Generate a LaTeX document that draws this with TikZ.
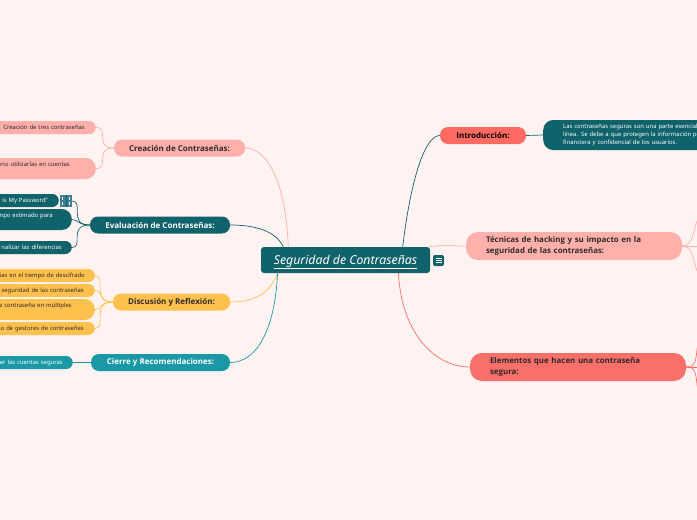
\documentclass[tikz,border=0pt]{standalone}
\usepackage{fontspec}
\setmainfont{Noto Sans}[BoldFont={Open Sans Bold}]
\usepackage{tikz}
\usetikzlibrary{calc}

\definecolor{paper}{HTML}{FFF3F1}
\definecolor{tealdark}{HTML}{10626B}
\definecolor{teallight}{HTML}{1A98A6}
\definecolor{rosa}{HTML}{FFB0AB}
\definecolor{rojo}{HTML}{FF6B63}
\definecolor{salmon}{HTML}{F96F6A}
\definecolor{ambar}{HTML}{FFC14D}
\definecolor{ink}{HTML}{2E2A2A}
\definecolor{steel}{HTML}{3F7F96}

\begin{document}
\begin{tikzpicture}[
  x=1pt, y=-1pt,
  topic/.style={rectangle, rounded corners=8pt, minimum height=17pt, inner sep=0pt,
                align=center, font=\fontsize{8.0}{10}\selectfont\bfseries},
  wide/.style={rectangle, rounded corners=12pt, minimum height=28pt, inner sep=0pt,
               minimum width=216pt, text width=176pt, align=left,
               font=\fontsize{7.9}{11}\selectfont\bfseries, text=ink},
  leaf/.style={rectangle, rounded corners=6.5pt, anchor=east, minimum height=13pt, inner ysep=0pt,
               text width=150pt, align=right, font=\fontsize{5.9}{8}\selectfont},
  tall/.style={leaf, rounded corners=10pt, minimum height=21pt},
  link/.style={line width=0.7pt}
]
\useasboundingbox (0,0) rectangle (697,520);
\fill[paper] (0,0) rectangle (697,520);
\clip (0,0) rectangle (697,520);

%% Central topic
\node[rectangle, fill=tealdark, rounded corners=3pt, minimum width=169pt, minimum height=26pt,
      inner sep=0pt, text=white, font=\fontsize{12.3}{14}\selectfont\itshape\mdseries]
  at (345.5,260) (centro) {\raisebox{-4pt}[0pt][0pt]{\underline{Seguridad de Contraseñas}}};
\node[fill=tealdark, rounded corners=2pt, minimum size=11pt, inner sep=0pt] at (438.5,260.5) (menu) {};

%% Right side
\node[topic, fill=rojo, text=black, minimum width=86pt] at (483,135.5) (intro) {Introducción:};
\node[anchor=west, fill=tealdark, rounded corners=10pt, minimum height=30pt, minimum width=220pt,
      inner sep=0pt, text=white, text width=200pt, align=left,
      font=\fontsize{5.9}{8.4}\selectfont] at (543,135) (introtxt)
  {\raisebox{-1pt}{\hspace*{10pt}Las contraseñas seguras son una parte esencial}\\
   \raisebox{-1pt}{\hspace*{10pt}línea. Se debe a que protegen la información per}\\
   \raisebox{-1pt}{\hspace*{10pt}financiera y confidencial de los usuarios.}};
\node[wide, fill=rosa] at (574,246) (hacking)
  {Técnicas de hacking y su impacto en la\\seguridad de las contraseñas:};
\node[wide, fill=salmon] at (578,367) (elementos)
  {Elementos que hacen una contraseña\\segura:};
\coordinate (hackA) at (701,215);
\coordinate (hackB) at (701,277);
\coordinate (hackC) at (700,246);
\coordinate (elemA) at (699,335);
\coordinate (elemC) at (699,399);
\coordinate (elemD) at (700,367);

%% Left side
\node[topic, fill=rosa, text=ink, minimum width=131pt] at (179.5,148) (creacion) {Creación de Contraseñas:};
\node[leaf, fill=rosa, text=ink, inner xsep=11pt] at (96,127.5) (tres) {Creación de tres contraseñas};
\node[tall, fill=rosa, text=ink, inner xsep=26pt] at (96,168.5) (cuentas) {eno utilizarlas en cuentas\\[1pt]~};

\node[topic, fill=tealdark, text=white, minimum width=140pt] at (160,225) (evalua) {Evaluación de Contraseñas:};
\node[leaf, fill=tealdark, text=white, inner xsep=11pt] at (59,200.5) (frase) {e is My Password"};
\node[fill=steel, minimum size=12pt, inner sep=0pt] at (66,201) (notas) {};
\node[tall, fill=tealdark, text=white, inner xsep=19pt] at (72,219.5) (tiempo) {mpo estimado para\\[1pt]~};
\node[leaf, fill=tealdark, text=white, inner xsep=10pt] at (72,247.5) (difer) {nalizar las diferencias};

\node[topic, fill=ambar, text=ink, minimum width=117pt] at (171.5,302) (discusion) {Discusión y Reflexión:};
\node[leaf, fill=ambar, text=ink, inner xsep=10pt] at (95,275.5) (descifrado) {ias en el tiempo de descifrado};
\node[leaf, fill=ambar, text=ink, inner xsep=11pt] at (95,290.5) (seguridad) {seguridad de las contraseñas};
\node[tall, fill=ambar, text=ink, inner xsep=23pt] at (95,309.5) (multiples) {a contraseña en múltiples\\[1pt]~};
\node[leaf, fill=ambar, text=ink, inner xsep=11pt] at (95,328.5) (gestores) {so de gestores de contraseñas};

\node[topic, fill=teallight, text=white, minimum width=139pt] at (160.5,362.5) (cierre) {Cierre y Recomendaciones:};
\node[leaf, fill=teallight, text=white, inner xsep=10pt] at (73,362.5) (seguras) {er las cuentas seguras};

%% Menu glyph and note marks
\draw[white, line width=0.7pt] ($(menu.center)+(-3,-2.2)$) -- +(6,0);
\draw[white, line width=0.7pt] ($(menu.center)+(-3,0)$) -- +(6,0);
\draw[white, line width=0.7pt] ($(menu.center)+(-3,2.2)$) -- +(6,0);
\draw[tealdark, line width=1pt] (notas.north) -- (notas.south);
\draw[white, line width=0.6pt] ($(notas.center)+(-3.5,-4)$) -- +(0,3);
\draw[white, line width=0.6pt] ($(notas.center)+(-3.5,1)$) -- +(0,3);
\draw[white, line width=0.6pt] ($(notas.center)+(3.5,-4)$) -- +(0,3);
\draw[white, line width=0.6pt] ($(notas.center)+(3.5,1)$) -- +(0,3);

%% Links from the central topic
\draw[link, tealdark] (centro.13.9) .. controls +(8,-67) and +(-15,0) .. (intro.west);
\draw[link, rosa] (centro.9) .. controls +(15,-2) and +(-15,0) .. (hacking.west);
\draw[link, salmon] (centro.346.1) .. controls +(3,60) and +(-35,0) .. (elementos.west);
\draw[link, rosa] (centro.167.8) .. controls +(-3,-70) and +(20,0) .. (creacion.east);
\draw[link, tealdark] (centro.168.5) .. controls +(-8,-16) and +(25,0) .. (evalua.east);
\draw[link, ambar] (centro.191.7) .. controls +(-8,20) and +(25,0) .. (discusion.east);
\draw[link, teallight] (centro.191.7) .. controls +(-3,60) and +(25,0) .. (cierre.east);

%% Links to the leaves
\draw[link, tealdark] (intro.east) -- (introtxt.west);
\draw[link, rosa] (hacking.east) .. controls +(14,0) and +(-9,8) .. (hackA);
\draw[link, rosa] (hacking.east) .. controls +(14,0) and +(-9,-8) .. (hackB);
\draw[link, rosa] (hacking.east) -- (hackC);
\draw[link, salmon] (elementos.east) -- (elemD);
\draw[link, salmon] (elementos.east) .. controls +(12,0) and +(-4,23) .. (elemA);
\draw[link, salmon] (elementos.east) .. controls +(12,0) and +(-4,-23) .. (elemC);

\draw[link, rosa] (creacion.west) .. controls +(-20,0) and +(14,0) .. (tres.east);
\draw[link, rosa] (creacion.west) .. controls +(-20,0) and +(14,0) .. (cuentas.east);

\draw[link, tealdark] (evalua.west) .. controls +(-22,0) and +(12,0) .. (notas.east);
\draw[link, tealdark] (evalua.west) .. controls +(-12,0) and +(6,0) .. (tiempo.east);
\draw[link, tealdark] (evalua.west) .. controls +(-22,0) and +(12,0) .. (difer.east);

\draw[link, ambar] (discusion.west) .. controls +(-22,0) and +(12,0) .. (descifrado.east);
\draw[link, ambar] (discusion.west) .. controls +(-14,0) and +(8,0) .. (seguridad.east);
\draw[link, ambar] (discusion.west) .. controls +(-14,0) and +(8,0) .. (multiples.east);
\draw[link, ambar] (discusion.west) .. controls +(-22,0) and +(12,0) .. (gestores.east);

\draw[link, teallight] (cierre.west) -- (seguras.east);
\end{tikzpicture}
\end{document}
